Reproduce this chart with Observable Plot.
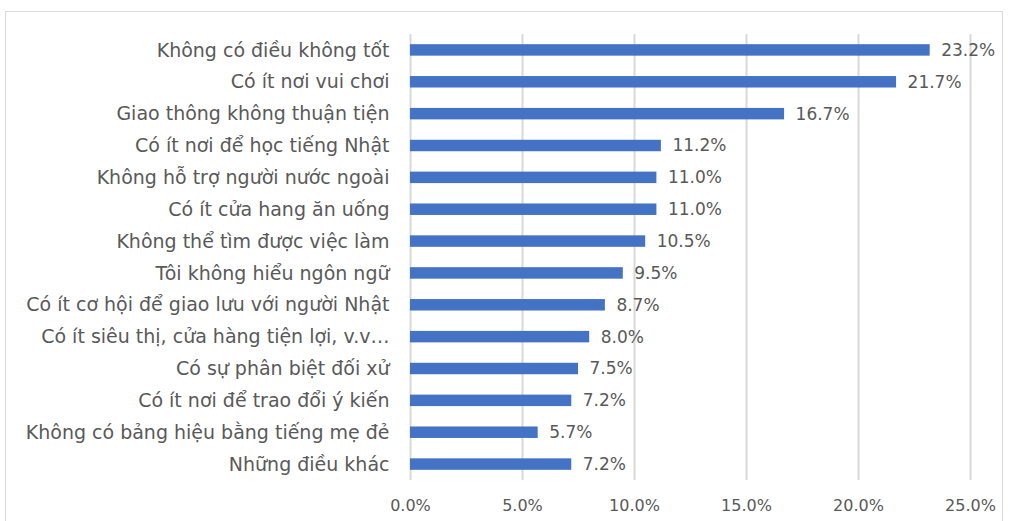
<!DOCTYPE html>
<html><head><meta charset="utf-8">
<script src="https://cdn.jsdelivr.net/npm/d3@7"></script>
<script src="https://cdn.jsdelivr.net/npm/@observablehq/plot@0.6"></script>
<style>
body{margin:0;background:#fff;}
#wrap{position:relative;width:1010px;height:521px;overflow:hidden}
#frame{position:absolute;left:5px;top:11px;width:998px;height:520px;border:1.5px solid #d9d9d9;box-sizing:border-box;pointer-events:none}
svg{display:block}
</style></head><body><div id="wrap"><div id="frame"></div></div>
<script>
const categories = [
  "Không có điều không tốt",
  "Có ít nơi vui chơi",
  "Giao thông không thuận tiện",
  "Có ít nơi để học tiếng Nhật",
  "Không hỗ trợ người nước ngoài",
  "Có ít cửa hang ăn uống",
  "Không thể tìm được việc làm",
  "Tôi không hiểu ngôn ngữ",
  "Có ít cơ hội để giao lưu với người Nhật",
  "Có ít siêu thị, cửa hàng tiện lợi, v.v…",
  "Có sự phân biệt đối xử",
  "Có ít nơi để trao đổi ý kiến",
  "Không có bảng hiệu bằng tiếng mẹ đẻ",
  "Những điều khác"
];
const values = [23.2, 21.7, 16.7, 11.2, 11.0, 11.0, 10.5, 9.5, 8.7, 8.0, 7.5, 7.2, 5.7, 7.2];
const tickValues = [0, 5, 10, 15, 20, 25];

const data = categories.map((c, i) => ({category: c, value: values[i]}));
const pct = d => d.toFixed(1) + "%";

const chart = Plot.plot({
  width: 1010, height: 521,
  marginLeft: 410, marginRight: 40, marginTop: 34, marginBottom: 41,
  style: {fontFamily: "'DejaVu Sans', sans-serif", background: "transparent", color: "#595959"},
  x: {domain: [0, 25], label: null},
  y: {domain: categories, label: null, paddingInner: 0.64, paddingOuter: 0.32, round: false},
  marks: [
    Plot.gridX(tickValues, {stroke: "#d9d9d9", strokeOpacity: 1, strokeWidth: 2}),
    Plot.axisX({ticks: tickValues, tickFormat: pct, tickSize: 0, tickPadding: 19, fontSize: 16, fill: "#595959", label: null}),
    Plot.axisY({tickSize: 0, tickPadding: 21, fontSize: 19, fill: "#595959", label: null}),
    Plot.barX(data, {x: "value", y: "category", fill: "#4472C4"}),
    Plot.text(data, {x: "value", y: "category", text: d => pct(d.value), textAnchor: "start", dx: 11, fontSize: 17, fill: "#595959"})
  ]
});
document.getElementById("wrap").prepend(chart);
</script>
</body></html>
